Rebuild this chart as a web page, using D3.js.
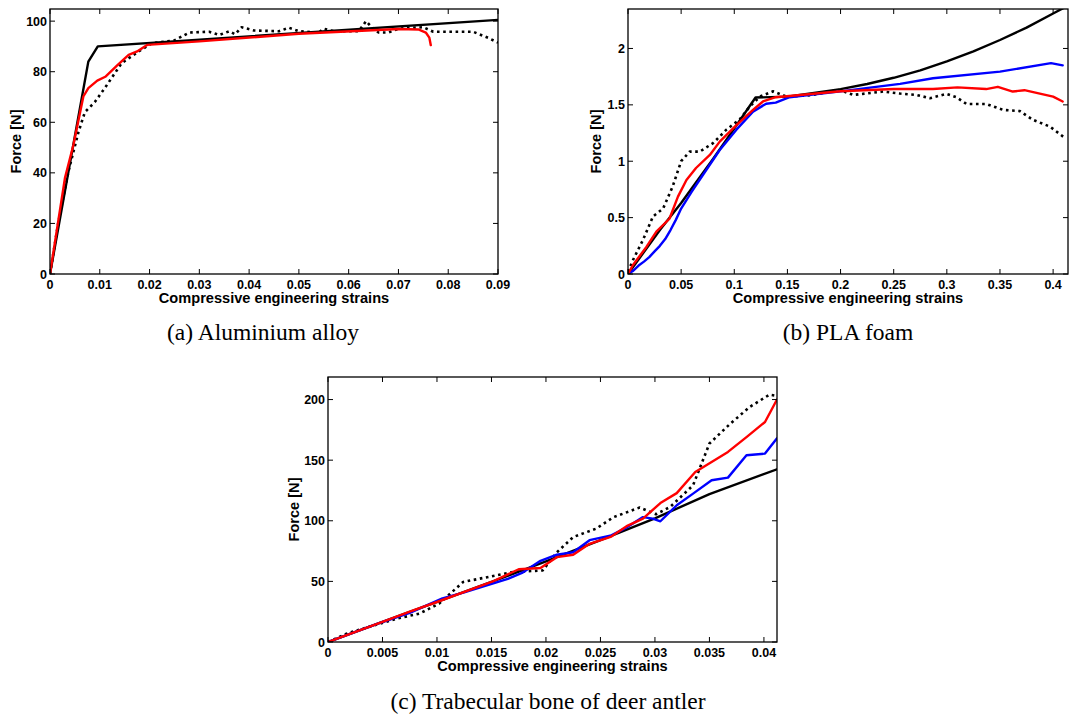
<!DOCTYPE html>
<html>
<head>
<meta charset="utf-8">
<script src="https://cdn.jsdelivr.net/npm/d3@7"></script>
<style>
  html, body { margin: 0; padding: 0; background: #fff; }
  svg { display: block; }
  .tick-label { font-family: "Liberation Sans", Arial, sans-serif; font-weight: bold; font-size: 12.5px; fill: #000; }
  .axis-title { font-family: "Liberation Sans", Arial, sans-serif; font-weight: bold; font-size: 14.6px; fill: #000; }
  .caption { font-family: "Liberation Serif", "Times New Roman", serif; font-size: 23.5px; fill: #000; }
</style>
</head>
<body>
<svg id="chart" width="1069" height="715"></svg>
<script>
// ---------- (a) Aluminium alloy ----------
const alXTicks = [0, 0.01, 0.02, 0.03, 0.04, 0.05, 0.06, 0.07, 0.08, 0.09];
const alYTicks = [0, 20, 40, 60, 80, 100];
const alModel = [[0,0],[0.0077,84],[0.0096,90],[0.09,100.5]];
const alExperiment = [[0,0],[0.0017,20.7],[0.0037,40.5],[0.0057,56],[0.007,64],[0.009,68],[0.011,73.5],[0.0144,83.4],[0.0178,88],[0.0205,91.3],[0.025,92.4],[0.028,95.5],[0.032,95.8],[0.034,94.5],[0.036,96],[0.0372,94.8],[0.0385,97.6],[0.041,96.3],[0.046,96],[0.048,97.4],[0.05,96],[0.054,95.5],[0.055,97],[0.057,96],[0.062,96],[0.0635,100],[0.065,96.8],[0.066,95.5],[0.068,95.5],[0.07,97],[0.075,97.6],[0.077,95.8],[0.085,95.8],[0.088,93.4],[0.09,91.5]];
const alSimulation = [[0,0],[0.003,37.9],[0.0047,51],[0.0067,70.2],[0.0077,73.5],[0.0095,76.5],[0.0111,78],[0.0135,82.5],[0.0158,86.7],[0.0175,88],[0.0195,90.6],[0.03,92],[0.05,95],[0.07,96.9],[0.074,96.7],[0.0755,95.5],[0.0762,93.5],[0.0765,90.5]];

// ---------- (b) PLA foam ----------
const plaXTicks = [0, 0.05, 0.1, 0.15, 0.2, 0.25, 0.3, 0.35, 0.4];
const plaYTicks = [0, 0.5, 1, 1.5, 2];
const plaModel = [[0,0],[0.03,0.39],[0.05,0.63],[0.08,1.02],[0.1,1.29],[0.12,1.565],[0.15,1.573],[0.2,1.64],[0.225,1.685],[0.25,1.74],[0.275,1.805],[0.3,1.885],[0.325,1.975],[0.35,2.075],[0.375,2.185],[0.4,2.31],[0.42,2.41]];
const plaExperiment = [[0,0.02],[0.0047,0.124],[0.014,0.3],[0.0235,0.51],[0.033,0.58],[0.042,0.775],[0.05,1.0],[0.058,1.085],[0.0675,1.085],[0.08,1.16],[0.0926,1.28],[0.105,1.37],[0.1146,1.485],[0.124,1.573],[0.1365,1.62],[0.149,1.573],[0.172,1.585],[0.199,1.632],[0.212,1.588],[0.24,1.618],[0.256,1.6],[0.2715,1.588],[0.284,1.559],[0.2997,1.597],[0.309,1.568],[0.3185,1.508],[0.337,1.508],[0.353,1.455],[0.3687,1.445],[0.381,1.367],[0.397,1.307],[0.4094,1.218]];
const plaSimBlue = [[0,0],[0.005,0.03],[0.01,0.075],[0.015,0.11],[0.02,0.15],[0.025,0.2],[0.03,0.25],[0.035,0.31],[0.04,0.39],[0.045,0.48],[0.05,0.58],[0.06,0.73],[0.0706,0.88],[0.0863,1.1],[0.102,1.28],[0.1176,1.44],[0.13,1.51],[0.139,1.52],[0.152,1.568],[0.2,1.62],[0.224,1.648],[0.256,1.686],[0.287,1.736],[0.35,1.795],[0.398,1.87],[0.409,1.85]];
const plaSimRed = [[0,0],[0.0047,0.08],[0.0173,0.24],[0.0267,0.375],[0.039,0.49],[0.047,0.686],[0.055,0.834],[0.064,0.94],[0.077,1.056],[0.0863,1.174],[0.102,1.32],[0.1176,1.455],[0.127,1.53],[0.139,1.568],[0.2,1.62],[0.25,1.64],[0.287,1.64],[0.31,1.655],[0.337,1.64],[0.348,1.66],[0.362,1.618],[0.373,1.63],[0.3875,1.6],[0.4,1.573],[0.409,1.53]];

// ---------- (c) Trabecular bone of deer antler ----------
const boneXTicks = [0, 0.005, 0.01, 0.015, 0.02, 0.025, 0.03, 0.035, 0.04];
const boneYTicks = [0, 50, 100, 150, 200];
const boneModel = [[0,0],[0.005,16.5],[0.01,33],[0.015,49.5],[0.02,66.5],[0.025,84],[0.03,102],[0.035,122],[0.0412,142.5]];
const boneExperiment = [[0,0],[0.0017,6.9],[0.0063,19.3],[0.0084,23.4],[0.0102,31.7],[0.0124,49.5],[0.017,57.8],[0.0197,59],[0.021,74],[0.0225,86.6],[0.0246,93.5],[0.0262,103],[0.0286,110.9],[0.0301,105.4],[0.0314,111.4],[0.0335,129.3],[0.035,163.7],[0.0369,180],[0.0387,193.9],[0.0405,204],[0.0412,203]];
const boneSimBlue = [[0,0],[0.005,16.5],[0.0075,24],[0.0105,36],[0.0125,41],[0.0165,52],[0.0178,57],[0.0195,67],[0.021,72],[0.0225,74],[0.024,84],[0.026,88],[0.0275,95],[0.0289,103],[0.0298,101.8],[0.0305,99.6],[0.032,112.8],[0.0335,122.4],[0.0352,133.4],[0.0367,135.6],[0.0384,154],[0.0401,155.4],[0.0412,168]];
const boneSimRed = [[0,0],[0.005,16.5],[0.0075,25],[0.01,33],[0.015,49.5],[0.0175,60],[0.0195,61],[0.021,70],[0.0225,72],[0.024,81],[0.026,87],[0.0275,96],[0.0289,101.8],[0.0305,114.6],[0.032,122.8],[0.0337,140.3],[0.0352,148.5],[0.0367,156.8],[0.0384,169],[0.0401,181.5],[0.0412,200]];

const captions = ["(a) Aluminium alloy", "(b) PLA foam", "(c) Trabecular bone of deer antler"];
const xTitle = "Compressive engineering strains";
const yTitle = "Force [N]";

const svg = d3.select("#chart");

function fmt(v) { return String(+v.toFixed(4)); }

function drawPanel(cfg) {
  const { id, left, right, top, bottom, xDomain, yDomain, xTicks, yTicks, series, caption, capX, capY, yTitleX } = cfg;
  const g = svg.append("g");
  const x = d3.scaleLinear().domain(xDomain).range([left, right]);
  const y = d3.scaleLinear().domain(yDomain).range([bottom, top]);

  g.append("clipPath").attr("id", "clip-" + id)
    .append("rect").attr("x", left).attr("y", top).attr("width", right - left).attr("height", bottom - top);

  const line = d3.line().x(d => x(d[0])).y(d => y(d[1]));
  const plot = g.append("g").attr("clip-path", `url(#clip-${id})`);
  series.forEach(s => {
    plot.append("path")
      .attr("d", line(s.data))
      .attr("fill", "none")
      .attr("stroke", s.color)
      .attr("stroke-width", s.dotted ? 2.6 : 2.4)
      .attr("stroke-dasharray", s.dotted ? "2.6,3.6" : null)
      .attr("stroke-linejoin", "round")
      .attr("stroke-linecap", s.dotted ? "butt" : "round");
  });

  // ticks (inward, all four sides)
  const tl = 5;
  xTicks.forEach(t => {
    g.append("line").attr("x1", x(t)).attr("x2", x(t)).attr("y1", bottom).attr("y2", bottom - tl).attr("stroke", "#000").attr("stroke-width", 1);
    g.append("line").attr("x1", x(t)).attr("x2", x(t)).attr("y1", top).attr("y2", top + tl).attr("stroke", "#000").attr("stroke-width", 1);
    g.append("text").attr("class", "tick-label").attr("x", x(t)).attr("y", bottom + 15).attr("text-anchor", "middle").text(fmt(t));
  });
  yTicks.forEach(t => {
    g.append("line").attr("x1", left).attr("x2", left + tl).attr("y1", y(t)).attr("y2", y(t)).attr("stroke", "#000").attr("stroke-width", 1);
    g.append("line").attr("x1", right).attr("x2", right - tl).attr("y1", y(t)).attr("y2", y(t)).attr("stroke", "#000").attr("stroke-width", 1);
    g.append("text").attr("class", "tick-label").attr("x", left - 3).attr("y", y(t) + 4.5).attr("text-anchor", "end").text(fmt(t));
  });

  g.append("rect").attr("x", left).attr("y", top).attr("width", right - left).attr("height", bottom - top)
    .attr("fill", "none").attr("stroke", "#000").attr("stroke-width", 1.3);

  g.append("text").attr("class", "axis-title").attr("x", (left + right) / 2).attr("y", bottom + 29)
    .attr("text-anchor", "middle").text(xTitle);
  g.append("text").attr("class", "axis-title")
    .attr("transform", `translate(${yTitleX},${(top + bottom) / 2}) rotate(-90)`)
    .attr("text-anchor", "middle").text(yTitle);

  g.append("text").attr("class", "caption").attr("x", capX).attr("y", capY).attr("text-anchor", "middle").text(caption);
}

drawPanel({
  id: "a", left: 50, right: 498, top: 9, bottom: 274,
  xDomain: [0, 0.09], yDomain: [0, 104.8],
  xTicks: alXTicks, yTicks: alYTicks,
  series: [
    { data: alModel, color: "#000" },
    { data: alExperiment, color: "#000", dotted: true },
    { data: alSimulation, color: "#ff0000" }
  ],
  caption: captions[0], capX: 263, capY: 340, yTitleX: 21
});

drawPanel({
  id: "b", left: 628, right: 1068, top: 9, bottom: 274,
  xDomain: [0, 0.414], yDomain: [0, 2.35],
  xTicks: plaXTicks, yTicks: plaYTicks,
  series: [
    { data: plaModel, color: "#000" },
    { data: plaExperiment, color: "#000", dotted: true },
    { data: plaSimBlue, color: "#0000ff" },
    { data: plaSimRed, color: "#ff0000" }
  ],
  caption: captions[1], capX: 848, capY: 340, yTitleX: 601
});

drawPanel({
  id: "c", left: 328, right: 777, top: 377, bottom: 642,
  xDomain: [0, 0.0412], yDomain: [0, 218.6],
  xTicks: boneXTicks, yTicks: boneYTicks,
  series: [
    { data: boneModel, color: "#000" },
    { data: boneExperiment, color: "#000", dotted: true },
    { data: boneSimBlue, color: "#0000ff" },
    { data: boneSimRed, color: "#ff0000" }
  ],
  caption: captions[2], capX: 548, capY: 708.5, yTitleX: 299
});
</script>
</body>
</html>
